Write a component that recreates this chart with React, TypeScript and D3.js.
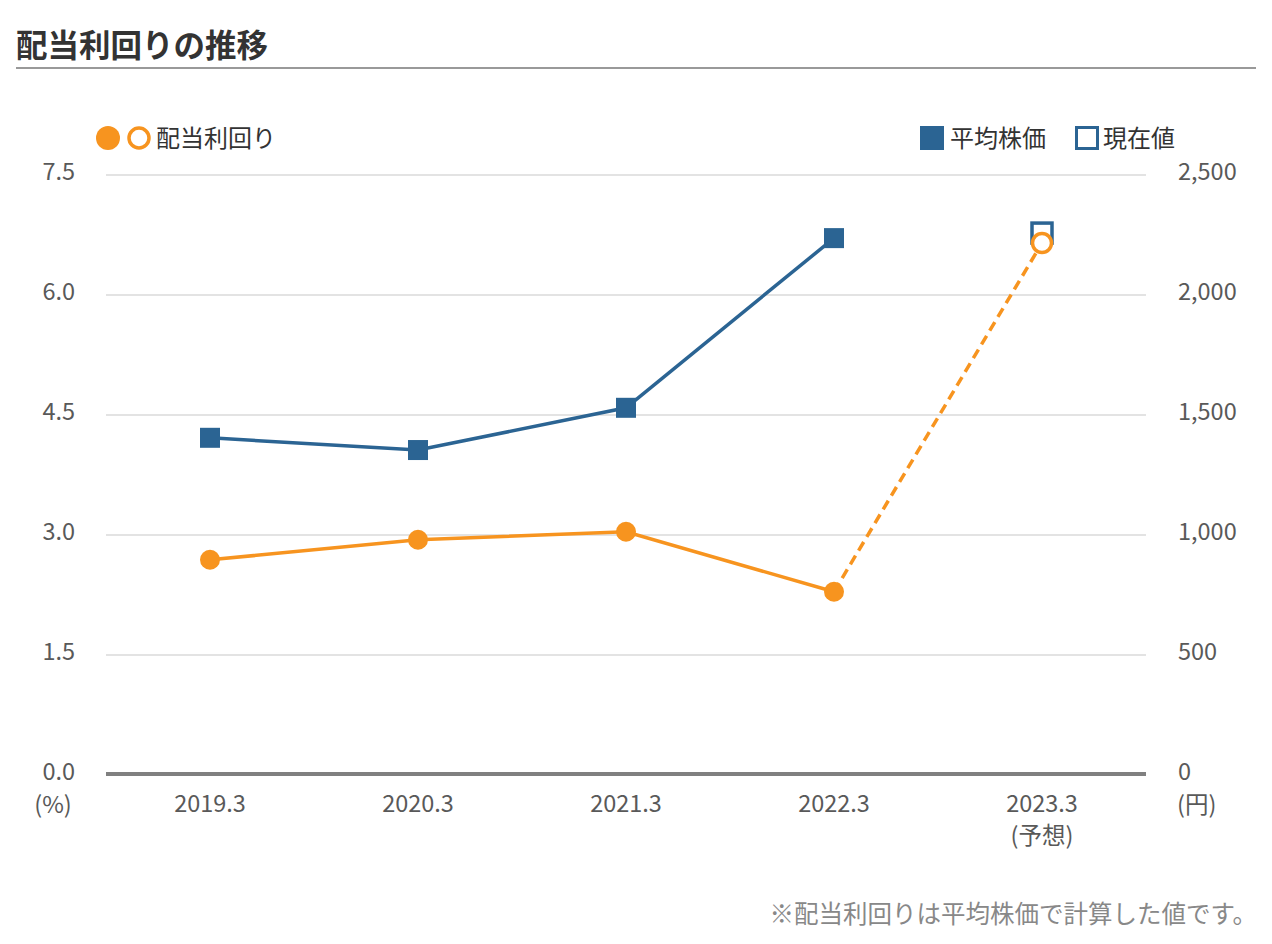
import React from "react";
import * as d3 from "d3";

const categories = ["2019.3", "2020.3", "2021.3", "2022.3", "2023.3"];
const categorySub = ["", "", "", "", "(予想)"];
const yieldValues = [2.69, 2.94, 3.04, 2.29, 6.65];
const priceValues = [1405, 1354, 1530, 2237, 2258];
const leftTicks = [0, 1.5, 3.0, 4.5, 6.0, 7.5];
const rightTicks = [0, 500, 1000, 1500, 2000, 2500];

const W = 1272;
const H = 944;
const ORANGE = "#f7941f";
const BLUE = "#2b6493";
const FONT = "'Noto Sans CJK JP', 'Noto Sans', sans-serif";
const TICK = 23.5;

export default function App() {
  const plotL = 106;
  const plotR = 1146;
  const x = d3.scaleBand<string>().domain(categories).range([plotL, plotR]);
  const cx = (c: string) => (x(c) as number) + x.bandwidth() / 2;
  const yL = d3.scaleLinear().domain([0, 7.5]).range([775, 175]);
  const yR = d3.scaleLinear().domain([0, 2500]).range([775, 175]);

  const solidYield = d3
    .line<number>()
    .x((_, i) => cx(categories[i]))
    .y((d) => yL(d));
  const solidPts = yieldValues.slice(0, 4);
  const dashPts: [number, number][] = [
    [cx(categories[3]), yL(yieldValues[3])],
    [cx(categories[4]), yL(yieldValues[4])],
  ];
  const priceLine = d3
    .line<number>()
    .x((_, i) => cx(categories[i]))
    .y((d) => yR(d));
  const pricePts = priceValues.slice(0, 4);

  const sq = 20;
  return (
    <svg
      width={W}
      height={H}
      style={{ position: "absolute", left: 0, top: 0, fontFamily: FONT }}
    >
      <rect width={W} height={H} fill="#fff" />
      <text x={16} y={57} fontSize={31.5} fontWeight={700} fill="#333">
        配当利回りの推移
      </text>
      <line x1={16} x2={1256} y1={68} y2={68} stroke="#999" strokeWidth={2} />

      {/* legend */}
      <circle cx={108} cy={138} r={12} fill={ORANGE} />
      <circle cx={139} cy={138} r={10} fill="#fff" stroke={ORANGE} strokeWidth={3.5} />
      <text x={156} y={147} fontSize={24} fill="#333">
        配当利回り
      </text>
      <rect x={920} y={126} width={24} height={24} fill={BLUE} />
      <text x={950} y={147} fontSize={24} fill="#333">
        平均株価
      </text>
      <rect x={1076.5} y={127.5} width={21} height={21} fill="#fff" stroke={BLUE} strokeWidth={3} />
      <text x={1103} y={147} fontSize={24} fill="#333">
        現在値
      </text>

      {/* grid */}
      {leftTicks.slice(1).map((t) => (
        <line key={t} x1={plotL} x2={plotR} y1={yL(t)} y2={yL(t)} stroke="#e3e3e3" strokeWidth={2} />
      ))}
      <line x1={plotL} x2={plotR} y1={774} y2={774} stroke="#808080" strokeWidth={4} />

      {/* left ticks */}
      {leftTicks.map((t) => (
        <text key={t} x={75} y={yL(t) + 5} textAnchor="end" fontSize={TICK} fill="#595959">
          {t.toFixed(1)}
        </text>
      ))}
      <text x={53} y={813} textAnchor="middle" fontSize={TICK} fill="#595959">
        (%)
      </text>
      {/* right ticks */}
      {rightTicks.map((t) => (
        <text key={t} x={1178} y={yR(t) + 5} fontSize={TICK} fill="#595959">
          {d3.format(",")(t)}
        </text>
      ))}
      <text x={1177} y={813} fontSize={TICK} fill="#595959">
        (円)
      </text>

      {/* x labels */}
      {categories.map((c, i) => (
        <g key={c}>
          <text x={cx(c)} y={812} textAnchor="middle" fontSize={TICK} fill="#595959">
            {c}
          </text>
          {categorySub[i] && (
            <text x={cx(c)} y={844} textAnchor="middle" fontSize={TICK} fill="#595959">
              {categorySub[i]}
            </text>
          )}
        </g>
      ))}

      {/* price line */}
      <path d={priceLine(pricePts) || ""} fill="none" stroke={BLUE} strokeWidth={3.5} />
      {pricePts.map((v, i) => (
        <rect key={i} x={cx(categories[i]) - sq / 2} y={yR(v) - sq / 2} width={sq} height={sq} fill={BLUE} />
      ))}
      <rect
        x={cx(categories[4]) - 10}
        y={yR(priceValues[4]) - 10}
        width={20}
        height={20}
        fill="#fff"
        stroke={BLUE}
        strokeWidth={3.5}
      />

      {/* yield line */}
      <path d={solidYield(solidPts) || ""} fill="none" stroke={ORANGE} strokeWidth={3.5} />
      <path
        d={d3.line()(dashPts) || ""}
        fill="none"
        stroke={ORANGE}
        strokeWidth={3.5}
        strokeDasharray="10 6"
      />
      {solidPts.map((v, i) => (
        <circle key={i} cx={cx(categories[i])} cy={yL(v)} r={10} fill={ORANGE} />
      ))}
      <circle cx={cx(categories[4])} cy={yL(yieldValues[4])} r={9.5} fill="#fff" stroke={ORANGE} strokeWidth={3.5} />

      <text x={1257} y={923} textAnchor="end" fontSize={24.5} fill="#888">
        ※配当利回りは平均株価で計算した値です。
      </text>
    </svg>
  );
}
